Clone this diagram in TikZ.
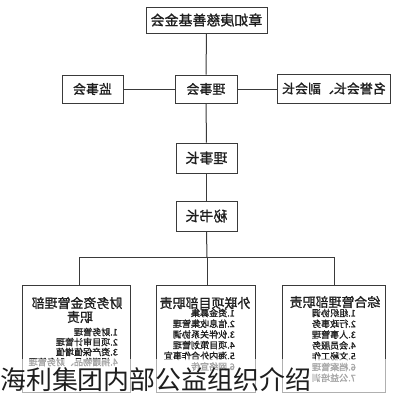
\documentclass[tikz,border=0pt]{standalone}
\usepackage{fontspec}
\usepackage{graphicx}
\setmainfont{Noto Sans CJK SC}
\newfontfamily\cjk{Noto Sans CJK SC}
\newfontfamily\cjkb[FakeBold=1.2]{Noto Sans CJK SC}
\definecolor{ink}{HTML}{1E1E1E}
\definecolor{edge}{HTML}{3A3A3A}
\tikzset{
  box/.style={draw=edge, line width=0.9bp, inner sep=0pt, fill=white},
  lbl/.style={text=ink, inner sep=0pt, font=\cjkb\fontsize{13}{15}\selectfont},
  toplbl/.style={text=ink, inner sep=0pt, font=\cjkb\fontsize{14}{16}\selectfont},
  itm/.style={text=ink, inner sep=0pt, anchor=east, font=\cjkb\fontsize{9.1}{10}\selectfont},
  wire/.style={draw=edge, line width=1bp},
}
\begin{document}
\begin{tikzpicture}[x=1bp,y=-1bp]
\useasboundingbox (0,0) rectangle (409,400);
\fill[white] (0,0) rectangle (409,400);
% boxes
\node[box, minimum width=121bp, minimum height=26bp] (fund) at (206.5,20) {};
\node[toplbl] (fundt) at (206.5,20) {\reflectbox{章如庚慈善基金会}};
\node[box, minimum width=61bp, minimum height=28bp] (jsh) at (92.5,89) {};
\node[lbl] (jsht) at (92.5,89) {\reflectbox{监事会}};
\node[box, minimum width=62bp, minimum height=28bp] (lsh) at (206,89) {};
\node[lbl] (lsht) at (206,89) {\reflectbox{理事会}};
\node[box, minimum width=113bp, minimum height=29bp] (hz) at (333.5,88.5) {};
\node[lbl] (hzt) at (334,88.5) {\reflectbox{名誉会长、副会长}};
\node[box, minimum width=61bp, minimum height=30bp] (lsz) at (206.5,158) {};
\node[toplbl] (lszt) at (206.5,158) {\reflectbox{理事长}};
\node[box, minimum width=61bp, minimum height=30bp] (msz) at (206.5,216) {};
\node[toplbl] (mszt) at (206.5,216) {\reflectbox{秘书长}};
\node[box, minimum width=108bp, minimum height=107bp] (bl) at (76,338.5) {};
\node[box, minimum width=99bp, minimum height=107bp] (bm) at (205.5,338.5) {};
\node[box, minimum width=103bp, minimum height=107bp] (br) at (333.5,338.5) {};
% connectors
\draw[wire] (fund.south) -- (lsh.north);
\draw[wire] (lsh.west) -- (jsh.east);
\draw[wire] (lsh.east) -- (hz.west |- lsh.east);
\draw[wire] (lsh.south) -- (lsz.north);
\draw[wire] (lsz.south) -- (msz.north);
\coordinate (jc) at (207,257);
\coordinate (jl) at (79,257);
\coordinate (jr) at (334,257);
\draw[wire] (msz.south) -- (jc);
\draw[wire] (jl) -- (jr);
\draw[wire] (jl) -- (jl |- bl.north);
\draw[wire] (jc) -- (jc |- bm.north);
\draw[wire] (jr) -- (jr |- br.north);
% left box text
\node[lbl] (hl1) at (77,303) {\reflectbox{财务资金管理部}};
\node[lbl] (hl2) at (80,317) {\reflectbox{职责}};
\foreach \t [count=\i] in {1.财务管理,2.项目审计管理,3.资产保值增值,4.捐赠物品、财务管理}
  \node[itm] (il\i) at (118,{332+(\i-1)*10}) {\reflectbox{\t}};
% middle box text
\node[lbl] (hm1) at (205,303) {\reflectbox{外联项目部职责}};
\foreach \t [count=\i] in {1.资金募集,2.信息收集管理,3.伙伴关系协调,4.项目策划管理,5.海内外合作事宜,6.网络宣传}
  \node[itm] (im\i) at (235,{313+(\i-1)*10.7}) {\reflectbox{\t}};
% right box text
\node[lbl] (hr1) at (335,302) {\reflectbox{综合管理部职责}};
\foreach \t [count=\i] in {1.组织协调,2.行政事务,3.人事管理,4.会员服务,5.文秘工作,6.档案管理,7.公益培训}
  \node[itm] (ir\i) at (356,{313+(\i-1)*10.8}) {\reflectbox{\t}};
% fade band and caption
\fill[white, opacity=0.6] (0,359) rectangle (409,400);
\node[anchor=west, inner sep=0pt, text=ink, font=\cjk\fontsize{26}{28}\selectfont] (cap) at (0,380) {海利集团内部公益组织介绍};
\end{tikzpicture}
\end{document}
